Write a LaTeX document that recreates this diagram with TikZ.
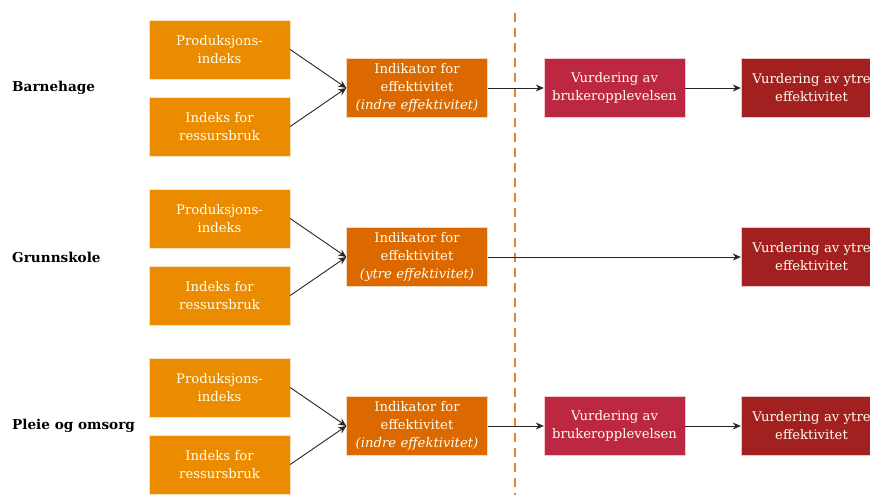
\documentclass[tikz,border=0pt]{standalone}
\usepackage{fontspec}
\setmainfont{DejaVu Serif}
\usetikzlibrary{arrows.meta}
\usetikzlibrary{positioning}

\definecolor{inorange}{HTML}{EB8C00}
\definecolor{indorange}{HTML}{DC6900}
\definecolor{brukrose}{HTML}{BC2742}
\definecolor{ytrered}{HTML}{A32020}
\definecolor{dashorange}{HTML}{E8822A}

\tikzset{
    box/.style={minimum width=141pt, minimum height=59pt, inner sep=0pt,
        text width=138pt, align=center, text=white!94!yellow,
        draw=white!75!#1, line width=0.4pt, fill=#1,
        font=\fontsize{13.2}{18}\selectfont},
    rowlabel/.style={anchor=west, inner sep=0pt, font=\fontsize{13.6}{15}\selectfont\bfseries},
    flow/.style={-{Stealth[length=8pt,width=7pt]}, line width=0.9pt, black!85},
    dashline/.style={dashorange, line width=2pt, dash pattern=on 9pt off 6pt}
}

\begin{document}
\begin{tikzpicture}[x=1pt, y=-1pt]
    \useasboundingbox (0,0) rectangle (870,499);
    \clip (0,0) rectangle (870,499);
    % skillelinje
    \draw[dashline] (515,13) -- (515,495);
    \foreach \r/\y/\name/\kind in {1/88/Barnehage/indre,
                                   2/257/Grunnskole/ytre,
                                   3/426/Pleie og omsorg/indre} {
        \node[rowlabel] (lbl\r) at (12,\y) {\name};
        \node[box=inorange] (prod\r) at (219.5,\y-38.5) {Produksjons-\\indeks};
        \node[box=inorange] (ress\r) at (219.5,\y+38.5) {Indeks for\\ressursbruk};
        \node[box=indorange] (ind\r) at (417,\y) {Indikator for\\effektivitet\\\textit{(\kind\ effektivitet)}};
        \node[box=ytrered] (ytre\r) at (811.5,\y) {Vurdering av ytre\\effektivitet};
        \draw[flow] (prod\r.east) -- (ind\r.west);
        \draw[flow] (ress\r.east) -- (ind\r.west);
    }
    % brukeropplevelse bare for barnehage og pleie
    \node[box=brukrose] (bruk1) at (614.5,88) {Vurdering av\\brukeropplevelsen};
    \node[box=brukrose] (bruk3) at (614.5,426) {Vurdering av\\brukeropplevelsen};
    \draw[flow] (ind1) -- (bruk1);
    \draw[flow] (bruk1) -- (ytre1);
    \draw[flow] (ind2) -- (ytre2);
    \draw[flow] (ind3) -- (bruk3);
    \draw[flow] (bruk3) -- (ytre3);
\end{tikzpicture}
\end{document}
